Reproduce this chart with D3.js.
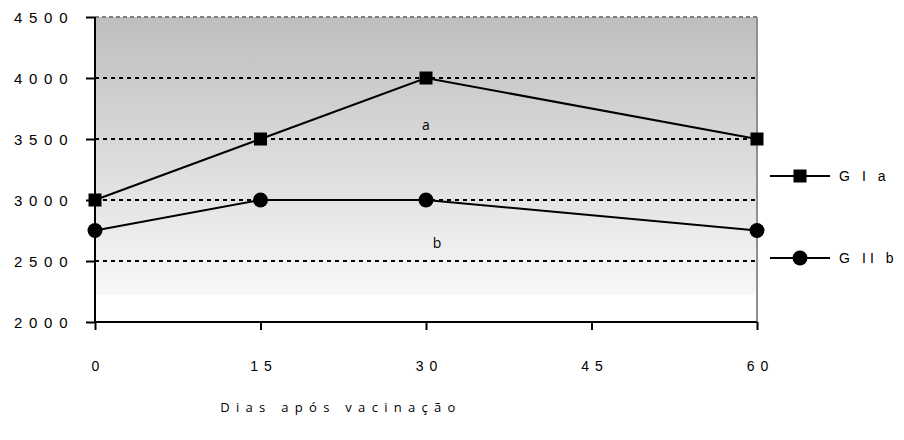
<!DOCTYPE html>
<html><head><meta charset="utf-8">
<script src="https://cdn.jsdelivr.net/npm/d3@7"></script>
<style>body{margin:0;background:#fff}svg{display:block}</style>
</head><body>
<svg id="c" width="904" height="440"></svg>
<script>
const days = [0, 15, 30, 60];
const xTicks = [0, 15, 30, 45, 60];
const yTicks = [2000, 2500, 3000, 3500, 4000, 4500];
const gridValues = [2500, 3000, 3500, 4000];
const seriesGI = [3000, 3500, 4000, 3500];
const seriesGII = [2750, 3000, 3000, 2750];
const legendParts = [["G", "I a"], ["G", "II b"]];
const annotations = [{x: 30, y: 3570, t: "a"}, {x: 31, y: 2605, t: "b"}];

const svg = d3.select("#c");
const L = 95, R = 757, T = 17, B = 322;
const x = d3.scaleLinear().domain([0, 60]).range([L, R]);
const y = d3.scaleLinear().domain([2000, 4500]).range([B, T]);

const defs = svg.append("defs");
const g = defs.append("linearGradient").attr("id", "bg").attr("x1", 0).attr("y1", 0).attr("x2", 0).attr("y2", 1);
g.append("stop").attr("offset", 0).attr("stop-color", "#bebebe");
g.append("stop").attr("offset", 1).attr("stop-color", "#f8f8f8");

svg.append("rect").attr("x", L).attr("y", T).attr("width", R - L).attr("height", 295 - T).attr("fill", "url(#bg)");

svg.selectAll(".grid").data(gridValues).enter().append("line")
  .attr("x1", L).attr("x2", R).attr("y1", d => y(d)).attr("y2", d => y(d))
  .attr("stroke", "#000").attr("stroke-width", 2).attr("stroke-dasharray", "4,4");
svg.append("line").attr("x1", L).attr("x2", R).attr("y1", y(4500)).attr("y2", y(4500))
  .attr("stroke", "#808080").attr("stroke-width", 2).attr("stroke-dasharray", "4,3");
svg.append("line").attr("x1", R).attr("x2", R).attr("y1", T).attr("y2", B)
  .attr("stroke", "#909090").attr("stroke-width", 2);

const yAxis = d3.axisLeft(y).tickValues(yTicks).tickSize(9).tickFormat(d => String(d));
const ya = svg.append("g").attr("transform", `translate(${L},0)`).call(yAxis);
const xAxis = d3.axisBottom(x).tickValues(xTicks).tickSize(8).tickFormat(d => String(d));
const xa = svg.append("g").attr("transform", `translate(0,${B})`).call(xAxis);
[ya, xa].forEach(a => {
  a.select(".domain").attr("stroke", "#000").attr("stroke-width", 2);
  a.selectAll(".tick line").attr("stroke", "#000").attr("stroke-width", 2);
  a.selectAll(".tick text").attr("font-family", "Liberation Sans, Arial, sans-serif")
    .attr("fill", "#000");
});
ya.select(".domain").attr("d", `M0,${B}V${T}`);
ya.selectAll(".tick text").attr("text-anchor", "start").attr("x", -81).attr("dy", "0.35em")
  .attr("font-size", 15).attr("letter-spacing", "6.7px");
xa.select(".domain").attr("d", `M${L},0H${R}`);
xa.selectAll(".tick text").attr("y", 44).attr("dy", "0.35em").attr("dx", 3)
  .attr("font-size", 14).attr("letter-spacing", "6px");

const line = d3.line().x((d, i) => x(days[i])).y(d => y(d));
svg.append("path").datum(seriesGI).attr("d", line).attr("fill", "none").attr("stroke", "#000").attr("stroke-width", 2);
svg.append("path").datum(seriesGII).attr("d", line).attr("fill", "none").attr("stroke", "#000").attr("stroke-width", 2);
svg.selectAll(".sq").data(seriesGI).enter().append("rect")
  .attr("x", (d, i) => x(days[i]) - 6.5).attr("y", d => y(d) - 6.5).attr("width", 13).attr("height", 13).attr("fill", "#000");
svg.selectAll(".ci").data(seriesGII).enter().append("circle")
  .attr("cx", (d, i) => x(days[i])).attr("cy", d => y(d)).attr("r", 7.5).attr("fill", "#000");

svg.selectAll(".ann").data(annotations).enter().append("text")
  .attr("x", d => x(d.x)).attr("y", d => y(d.y)).attr("text-anchor", "middle")
  .attr("font-family", "Open Sans, sans-serif").attr("font-size", 14).text(d => d.t);

const leg = [{ny: 176, shape: "sq"}, {ny: 258, shape: "ci"}];
leg.forEach((l, i) => {
  svg.append("line").attr("x1", 770).attr("x2", 830).attr("y1", l.ny).attr("y2", l.ny).attr("stroke", "#000").attr("stroke-width", 2);
  if (l.shape === "sq") svg.append("rect").attr("x", 793.5).attr("y", l.ny - 6.5).attr("width", 13).attr("height", 13);
  else svg.append("circle").attr("cx", 800).attr("cy", l.ny).attr("r", 7.5);
  const t = svg.append("text").attr("y", l.ny).attr("dy", "0.35em")
    .attr("font-family", "Liberation Sans, Arial, sans-serif").attr("font-size", 14);
  t.append("tspan").attr("x", 839).text(legendParts[i][0]);
  t.append("tspan").attr("x", 862).attr("letter-spacing", "4px").text(legendParts[i][1]);
});

svg.append("text").attr("x", 341).attr("y", 412).attr("text-anchor", "middle")
  .attr("font-family", "Open Sans, sans-serif").attr("font-size", 13).attr("letter-spacing", "6.3px")
  .text("Dias após vacinação");
</script>
</body></html>
